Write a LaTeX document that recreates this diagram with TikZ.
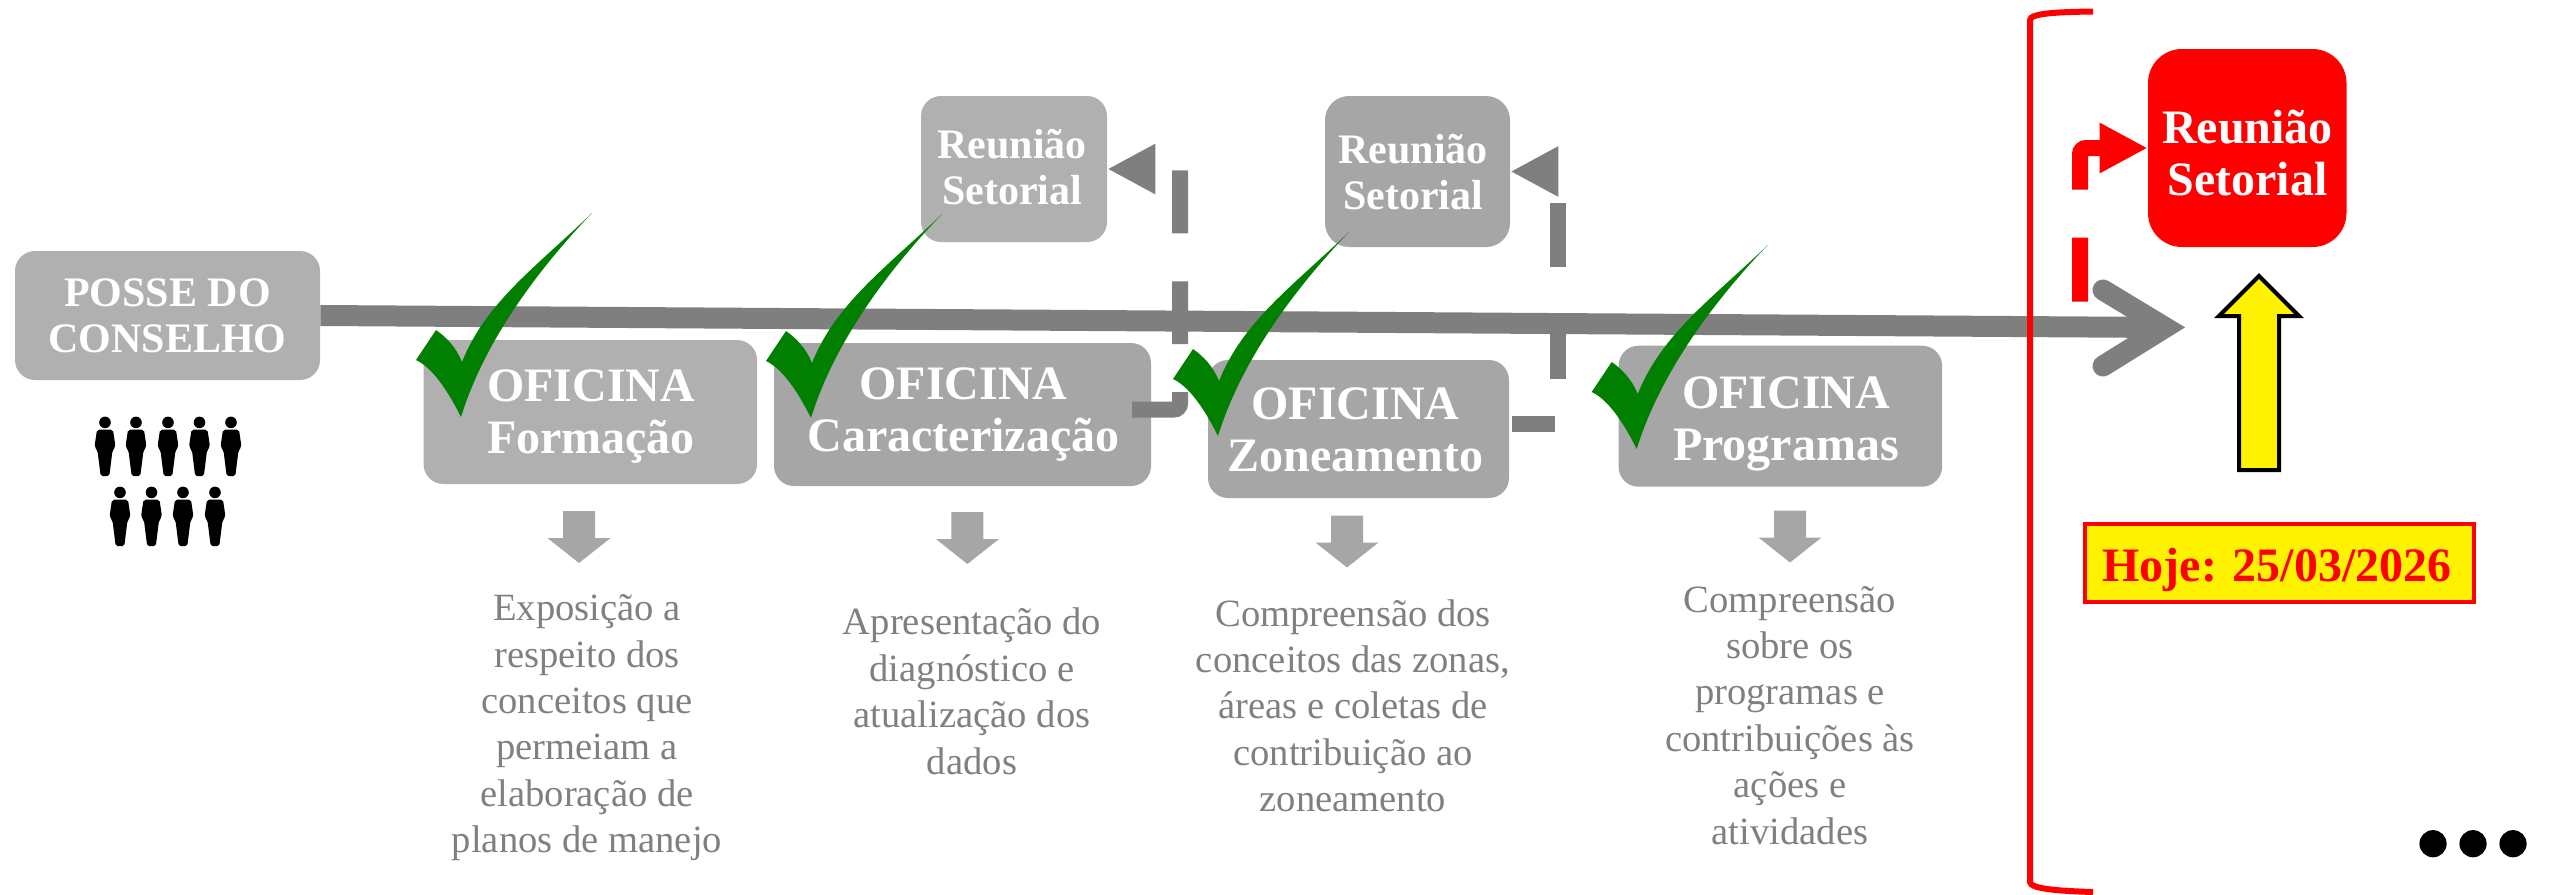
\documentclass[tikz,border=0pt]{standalone}
\usepackage{fontspec}
\setmainfont{Liberation Serif}
\usetikzlibrary{arrows.meta}
\definecolor{boxlight}{HTML}{B0B0B0}
\definecolor{boxmid}{HTML}{A6A6A6}
\definecolor{linegrey}{HTML}{7F7F7F}
\definecolor{descgrey}{HTML}{808080}
\definecolor{checkgreen}{HTML}{007F00}
\tikzset{
  x=0.5pt,y=-0.5pt,
  boxnode/.style={rectangle,inner sep=0pt,rounded corners=10pt},
  lightbox/.style={boxnode,fill=boxlight},
  midbox/.style={boxnode,fill=boxmid},
  redbox/.style={rectangle,inner sep=0pt,rounded corners=17pt,fill=red},
  bigtitle/.style={anchor=base,align=center,text=white,inner sep=0pt,font=\fontsize{24}{26}\selectfont\bfseries},
  smalltitle/.style={anchor=base,align=center,text=white,inner sep=0pt,font=\fontsize{21}{23}\selectfont\bfseries},
  desctext/.style={anchor=base,align=center,text=descgrey,inner sep=0pt,font=\fontsize{19.3}{23.2}\selectfont},
  mainline/.style={draw=linegrey,line width=10.5pt},
  mainhead/.style={draw=linegrey,line width=10.5pt,line cap=round,miter limit=10},
  dashconn/.style={draw=linegrey,line width=8pt,dash pattern=on 32pt off 24pt,
    -{Triangle[length=24pt,width=23.5pt,sep=0pt]}},
  reddashconn/.style={dashconn,draw=red,fill=none},
  bracketline/.style={draw=red,line width=3pt},
  checkmark/.pic={
    \fill[checkgreen] (131,-204) .. controls (75,-150) and (25,-115) .. (1,-55)
      .. controls (-5,-70) and (-15,-80) .. (-25,-87) -- (-45,-57)
      .. controls (-30,-50) and (-15,-30) .. (0,0)
      .. controls (20,-65) and (65,-135) .. (131,-204) -- cycle;
  },
  downarrow/.pic={
    \fill[boxmid] (-16,0) -- (16,0) -- (16,27) -- (31.5,27) -- (0,52) -- (-31.5,27) -- (-16,27) -- cycle;
  },
  person/.pic={
    \fill[black] (0,5.7) circle[radius=2.9pt];
    \fill[black,rounded corners=1pt] (-8,13) -- (8,13) -- (10.5,30) -- (7.5,34) -- (4.3,59.5) -- (-4.3,59.5) -- (-7.5,34) -- (-10.5,30) -- cycle;
  }
}
\begin{document}
\begin{tikzpicture}
\useasboundingbox (0,0) rectangle (2552,894);

% boxes
\node[lightbox,minimum width=152.5pt,minimum height=64.5pt] (posse) at (167.5,315.5) {};
\node[lightbox,minimum width=166.75pt,minimum height=72pt] (ofa) at (590.25,412) {};
\node[midbox,minimum width=188.5pt,minimum height=71.5pt] (ofb) at (962.5,414.5) {};
\node[midbox,minimum width=150.5pt,minimum height=69pt] (ofc) at (1358.5,429) {};
\node[midbox,minimum width=161.75pt,minimum height=70.5pt] (ofd) at (1780.3,416.2) {};
\node[lightbox,minimum width=93pt,minimum height=73pt] (reua) at (1014,169) {};
\node[midbox,minimum width=92.5pt,minimum height=75.5pt,rounded corners=12pt] (reub) at (1417.5,171.5) {};
\node[redbox,minimum width=99.25pt,minimum height=99pt] (reuc) at (2247.25,148) {};

% connector free ends
\coordinate (mainend) at (2165,327.5);
\coordinate (armtop) at (2103,290);
\coordinate (armbot) at (2103,366);
\coordinate (conAs) at (1132,409.5);
\coordinate (conAc) at (1180,409.5);
\coordinate (conAv) at (1180,169);
\coordinate (conBs) at (1512,423.5);
\coordinate (conBv) at (1558,171.5);
\coordinate (conCs) at (2080,301.7);

% main timeline
\draw[mainline] (posse.east) -- (mainend);
\draw[mainhead] (armtop) -- (mainend) -- (armbot);

% dashed connectors
\draw[dashconn,dash pattern=on 31.4pt off 24pt] (conAs) [rounded corners=3pt] -- (conAc) [sharp corners] -- (conAv) -- (reua.east);
\draw[dashconn,dash phase=10.5pt] (conBs) -| (conBv) -- (reub.east);
\draw[reddashconn,rounded corners=3pt] (conCs) |- (reuc.west);

% box texts
\node[bigtitle] (tofa) at (591,453) {OFICINA\\Formação};
\node[bigtitle] (tofb) at (963.5,451) {OFICINA\\Caracterização};
\node[bigtitle] (tofc) at (1355.5,471) {OFICINA\\Zoneamento};
\node[bigtitle] (tofd) at (1786,460.7) {OFICINA\\Programas};
\node[smalltitle] (tposse) at (167.5,352) {POSSE DO\\CONSELHO};
\node[smalltitle] (treua) at (1012,204) {Reunião\\Setorial};
\node[smalltitle] (treub) at (1413,209) {Reunião\\Setorial};
\node[bigtitle] (treuc) at (2247.5,195) {Reunião\\Setorial};

% checks
\pic (cka) at (461,417) {checkmark};
\pic (ckb) at (811,418) {checkmark};
\pic (ckc) at (1218,436) {checkmark};
\pic (ckd) at (1636.7,449) {checkmark};

% people
\pic (pa) at (105,416.7) {person};
\pic (pb) at (136,416.7) {person};
\pic (pc) at (168,416.7) {person};
\pic (pd) at (199.5,416.7) {person};
\pic (pe) at (231,416.7) {person};
\pic (pf) at (120,486.7) {person};
\pic (pg) at (151.5,486.7) {person};
\pic (ph) at (183,486.7) {person};
\pic (pi) at (215,486.7) {person};

% down arrows
\pic (da) at (579,511) {downarrow};
\pic (db) at (967.4,512) {downarrow};
\pic (dc) at (1347,515.5) {downarrow};
\pic (dd) at (1790,510.5) {downarrow};

% descriptions
\node[desctext] (desca) at (587,852.7) {Exposição a\\respeito dos\\conceitos que\\permeiam a\\elaboração de\\planos de manejo};
\node[desctext] (descb) at (972,774) {Apresentação do\\diagnóstico e\\atualização dos\\dados};
\node[desctext] (descc) at (1353,811.7) {Compreensão dos\\conceitos das zonas,\\áreas e coletas de\\contribuição ao\\zoneamento};
\node[desctext] (descd) at (1790,844) {Compreensão\\sobre os\\programas e\\contribuições às\\ações e\\atividades};

% bracket
\draw[bracketline] (2093,11.5) .. controls (2060,12) and (2030,13) .. (2030,20) -- (2030,882) .. controls (2030,889) and (2060,891) .. (2093,892);

% yellow arrow
\draw[fill=yellow,draw=black,line width=2pt,miter limit=10] (2259,276) -- (2299,316) -- (2279,316) -- (2279,470) -- (2239,470) -- (2239,316) -- (2219,316) -- cycle;

% today
\node[rectangle,draw=red,fill=yellow,line width=2pt,inner sep=0pt,minimum width=194.25pt,minimum height=38.8pt] (hoje) at (2279.25,562.8) {};
\node[anchor=base,inner sep=0pt,text=red,font=\fontsize{24}{26}\selectfont\bfseries] (thoje) at (2277,581) {Hoje: 25/03/2026};

% dots
\fill[black] (2433,843.7) circle[radius=6.8pt];
\fill[black] (2473,843.7) circle[radius=6.8pt];
\fill[black] (2513,843.7) circle[radius=6.8pt];
\end{tikzpicture}
\end{document}
